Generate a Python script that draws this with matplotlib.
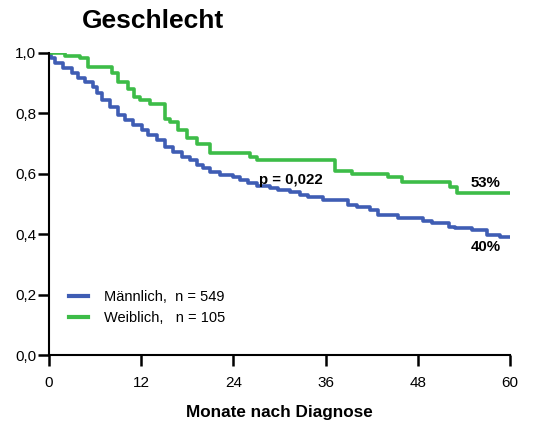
import matplotlib
matplotlib.use("Agg")
import matplotlib.pyplot as plt

plt.rcParams['font.family'] = ['Liberation Sans', 'DejaVu Sans']

# Kaplan-Meier step data (months, survival)
male_t = [0, 0.3, 0.8, 1.8, 3.0, 3.8, 4.7, 5.7, 6.25, 6.9, 7.9, 9.0, 9.9, 10.9, 12.1,
          12.9, 14.1, 15.1, 16.1, 17.3, 18.4, 19.3, 20.1, 21.0, 22.3, 24.0, 24.9,
          25.9, 27.1, 28.8, 29.8, 31.4, 32.7, 33.7, 35.7, 38.9, 40.1, 41.8, 42.8,
          45.4, 48.7, 49.9, 52.0, 52.9, 55.1, 57.0, 58.7, 60]
male_s = [1.0, 0.985, 0.967, 0.95, 0.934, 0.917, 0.904, 0.887, 0.867, 0.845, 0.82,
          0.795, 0.778, 0.762, 0.745, 0.728, 0.712, 0.69, 0.672, 0.656, 0.645, 0.63,
          0.62, 0.605, 0.596, 0.59, 0.58, 0.57, 0.558, 0.552, 0.546, 0.54, 0.53,
          0.523, 0.513, 0.497, 0.49, 0.48, 0.464, 0.454, 0.444, 0.437, 0.424, 0.42,
          0.414, 0.397, 0.39, 0.39]

female_t = [0, 2.1, 4.0, 5.1, 8.2, 9.0, 10.3, 11.0, 11.9, 13.2, 15.1, 15.8, 16.8,
            17.9, 19.3, 20.9, 26.2, 27.1, 37.2, 39.5, 44.1, 45.9, 52.2, 53.1, 60]
female_s = [1.0, 0.99, 0.983, 0.955, 0.935, 0.905, 0.88, 0.855, 0.845, 0.83, 0.78,
            0.77, 0.745, 0.72, 0.70, 0.67, 0.655, 0.645, 0.61, 0.60, 0.59, 0.573,
            0.556, 0.536, 0.536]

labels = ["Männlich,  n = 549", "Weiblich,   n = 105"]
x_ticks = [0, 12, 24, 36, 48, 60]
y_ticks = [0.0, 0.2, 0.4, 0.6, 0.8, 1.0]
y_ticklabels = ["0,0", "0,2", "0,4", "0,6", "0,8", "1,0"]

blue = "#3F5DB4"
green = "#3DBC48"

fig = plt.figure(figsize=(5.38, 4.23), dpi=100)
ax = fig.add_axes([49 / 538, 1 - 355 / 423, 461 / 538, 302 / 423])

ax.step(male_t, male_s, where="post", color=blue, lw=2.6, label=labels[0])
ax.step(female_t, female_s, where="post", color=green, lw=2.6, label=labels[1])

ax.set_xlim(0, 60)
ax.set_ylim(0, 1.0)
ax.set_xticks(x_ticks)
ax.set_yticks(y_ticks)
ax.set_yticklabels(y_ticklabels)
ax.tick_params(axis="both", labelsize=11, width=1.8, length=8, direction="out")
ax.tick_params(axis="x", pad=7)
ax.tick_params(axis="y", pad=1)
for side in ("top", "right"):
    ax.spines[side].set_visible(False)
for side in ("left", "bottom"):
    ax.spines[side].set_linewidth(1.5)
    ax.spines[side].set_clip_on(False)

ax.set_xlabel("Monate nach Diagnose", fontsize=12.3, fontweight="bold", labelpad=11)

leg = ax.legend(loc="lower left", bbox_to_anchor=(0.015, 0.057), frameon=False,
                fontsize=10.5, handlelength=1.3, handletextpad=1.1, labelspacing=0.45)
for line in leg.get_lines():
    line.set_linewidth(3)

ax.text(27.3, 0.58, "p = 0,022", fontsize=10.8, fontweight="bold", va="center", ha="left")
ax.text(56.8, 0.57, "53%", fontsize=10.8, fontweight="bold", va="center", ha="center")
ax.text(56.8, 0.357, "40%", fontsize=10.8, fontweight="bold", va="center", ha="center")

fig.text(82 / 538, 1 - 21 / 423, "Geschlecht", fontsize=19, fontweight="bold",
         va="center", ha="left")

fig.savefig("out.png", dpi=100)
